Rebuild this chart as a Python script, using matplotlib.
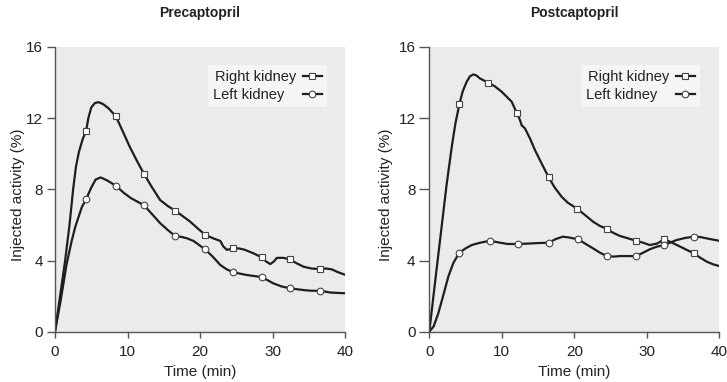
import matplotlib
matplotlib.use("Agg")
import matplotlib.pyplot as plt

plt.rcParams['font.family'] = ['Liberation Sans', 'DejaVu Sans']

#%% Data (time in min, injected activity in %)
pre_right_t = [0, 0.7, 1.4, 2.0, 2.5, 2.9, 3.3, 3.8, 4.3, 4.6, 5.0, 5.5, 6.0, 6.6, 7.4, 8.4,
               9.3, 10.3, 11.3, 12.3, 13.4, 14.5, 15.6, 16.6, 17.6, 18.6, 19.7, 20.7,
               21.8, 22.8, 23.2, 23.7, 24.6, 25.4, 26.2, 27.4, 28.5, 29.1, 29.7, 30.2,
               30.6, 31.5, 32.4, 33.3, 34.3, 35.4, 36.6, 37.4, 38.2, 39.0, 40]
pre_right_v = [0, 2.0, 4.0, 6.0, 8.0, 9.3, 10.1, 10.8, 11.3, 12.0, 12.6, 12.85, 12.9, 12.8, 12.55, 12.1,
               11.3, 10.4, 9.6, 8.85, 8.1, 7.4, 7.05, 6.8, 6.5, 6.2, 5.8, 5.45,
               5.25, 5.1, 4.8, 4.6, 4.68, 4.68, 4.6, 4.4, 4.18, 3.95, 3.8, 3.95,
               4.15, 4.15, 4.07, 3.85, 3.65, 3.55, 3.52, 3.55, 3.5, 3.35, 3.2]

pre_left_t = [0, 0.8, 1.6, 2.3, 2.8, 3.7, 4.3, 5.0, 5.6, 6.3, 7.2, 8.4, 9.5, 10.5, 11.4,
              12.3, 13.4, 14.5, 15.6, 16.6, 17.4, 18.2, 19.1, 20.7, 21.8, 22.8, 23.7,
              24.6, 26.4, 28.5, 29.3, 30.1, 31.2, 32.4, 33.5, 34.5, 35.5, 36.6, 38, 40]
pre_left_v = [0, 1.8, 3.8, 5.1, 5.9, 7.0, 7.45, 8.1, 8.55, 8.67, 8.5, 8.2, 7.8, 7.5, 7.3,
              7.1, 6.6, 6.1, 5.7, 5.37, 5.33, 5.25, 5.1, 4.63, 4.2, 3.75, 3.5,
              3.34, 3.19, 3.07, 2.9, 2.72, 2.55, 2.44, 2.38, 2.33, 2.3, 2.3, 2.2, 2.16]

post_right_t = [0, 0.8, 1.7, 2.4, 3.1, 3.6, 4.14, 4.6, 5.16, 5.6, 6.07, 6.5, 7.0, 8.14, 9.0,
                10.0, 11.37, 12.06, 12.5, 12.74, 13.2, 13.9, 14.58, 15.5, 16.47, 17.3, 18.26,
                19.1, 20.4, 21.5, 22.6, 23.5, 24.5, 25.4, 26.3, 27.4, 28.5, 29.5, 30.4,
                31.4, 32.4, 33.5, 34.6, 35.5, 36.5, 37.4, 38.3, 39.2, 40]
post_right_v = [0, 2.8, 5.9, 8.3, 10.4, 11.7, 12.77, 13.5, 14.05, 14.35, 14.46, 14.4, 14.23, 13.99, 13.8,
                13.48, 12.92, 12.3, 11.9, 11.6, 11.42, 10.85, 10.2, 9.45, 8.67, 8.1, 7.58,
                7.25, 6.91, 6.55, 6.18, 5.95, 5.77, 5.55, 5.38, 5.25, 5.11, 5.0, 4.87,
                4.95, 5.19, 5.0, 4.78, 4.6, 4.4, 4.15, 3.93, 3.78, 3.69]

post_left_t = [0, 0.6, 1.24, 1.9, 2.62, 3.3, 4.14, 5.0, 5.85, 7.0, 8.37, 9.5, 10.8, 12.2,
               13.5, 14.9, 16.5, 17.4, 18.4, 19.2, 20.55, 21.5, 22.6, 23.5, 24.5, 25.4,
               26.3, 27.4, 28.5, 29.4, 30.4, 31.4, 32.4, 33.3, 34.1, 35.3, 36.5, 37.4,
               38.3, 39.2, 40]
post_left_v = [0, 0.3, 1.03, 2.0, 3.09, 3.85, 4.44, 4.68, 4.87, 5.0, 5.11, 5.02, 4.93, 4.93,
               4.95, 4.98, 5.0, 5.2, 5.34, 5.3, 5.19, 4.95, 4.68, 4.45, 4.25, 4.22,
               4.25, 4.25, 4.25, 4.42, 4.63, 4.78, 4.87, 5.02, 5.15, 5.27, 5.34, 5.32,
               5.24, 5.17, 5.11]

# sampled points shown with markers
pre_mark_t = [4.3, 8.4, 12.3, 16.6, 20.7, 24.6, 28.5, 32.4, 36.6]
pre_right_mark = [11.3, 12.1, 8.85, 6.8, 5.45, 4.68, 4.18, 4.07, 3.52]
pre_left_mark = [7.45, 8.2, 7.1, 5.37, 4.63, 3.34, 3.07, 2.44, 2.3]

post_right_mark_t = [4.14, 8.14, 12.06, 16.47, 20.4, 24.5, 28.5, 32.4, 36.5]
post_right_mark = [12.77, 13.99, 12.3, 8.67, 6.91, 5.77, 5.11, 5.19, 4.4]
post_left_mark_t = [4.14, 8.37, 12.2, 16.5, 20.55, 24.5, 28.5, 32.4, 36.5]
post_left_mark = [4.44, 5.11, 4.93, 5.0, 5.19, 4.25, 4.25, 4.87, 5.34]

legend_labels = ['Right kidney', 'Left kidney   ']  # trailing spaces keep labels left aligned
x_ticks = [0, 10, 20, 30, 40]
y_ticks = [0, 4, 8, 12, 16]

#%% Figure
line_col = '#1e1e1e'
txt_col = '#222222'
fig = plt.figure(figsize=(7.27, 3.82), dpi=100)
ax1 = fig.add_axes([55/727, 1-331.7/382, 290/727, 284.7/382])
ax2 = fig.add_axes([429.3/727, 1-331.7/382, 290/727, 284.7/382])

panels = [
    (ax1, 'Precaptopril', pre_right_t, pre_right_v, pre_left_t, pre_left_v,
     pre_mark_t, pre_right_mark, pre_mark_t, pre_left_mark, 0.938, -0.103, 6),
    (ax2, 'Postcaptopril', post_right_t, post_right_v, post_left_t, post_left_v,
     post_right_mark_t, post_right_mark, post_left_mark_t, post_left_mark, 0.933, -0.124, 7.5),
]

for (ax, title, rt, rv, lt, lv, rmt, rm, lmt, lm, leg_x, ylab_x, ytick_len) in panels:
    ax.set_facecolor('#ebebeb')
    ax.plot(rt, rv, color=line_col, lw=1.6, zorder=2, solid_capstyle='round')
    ax.plot(lt, lv, color=line_col, lw=1.6, zorder=2, solid_capstyle='round')
    ax.plot(rmt, rm, ls='none', marker='s', ms=4.3, mfc='white', mec='#444444', mew=0.8, zorder=3)
    ax.plot(lmt, lm, ls='none', marker='o', ms=4.8, mfc='white', mec='#444444', mew=0.8, zorder=3)

    # legend handles (line + marker, marker after text)
    h1, = ax.plot([], [], color=line_col, lw=1.6, marker='s', ms=4.3, mfc='white', mec='#444444', mew=0.8)
    h2, = ax.plot([], [], color=line_col, lw=1.6, marker='o', ms=4.8, mfc='white', mec='#444444', mew=0.8)
    leg = ax.legend([h1, h2], legend_labels, loc='upper right',
                    bbox_to_anchor=(leg_x, 0.937), borderaxespad=0, markerfirst=False,
                    frameon=True, fancybox=False, fontsize=10.5, handlelength=1.3,
                    handletextpad=0.45, labelspacing=0.25, borderpad=0.35)
    leg.get_frame().set_facecolor('#f5f5f5')
    leg.get_frame().set_edgecolor('none')
    leg.get_frame().set_alpha(1)
    for t in leg.get_texts():
        t.set_color(txt_col)

    ax.set_xlim(0, 40)
    ax.set_ylim(0, 16)
    ax.set_xticks(x_ticks)
    ax.set_yticks(y_ticks)
    for s in ['top', 'right']:
        ax.spines[s].set_visible(False)
    for s in ['left', 'bottom']:
        ax.spines[s].set_color('#555555')
        ax.spines[s].set_linewidth(1.0)
    ax.tick_params(axis='x', direction='out', length=4.5, width=1, color='#555555',
                   labelsize=11, labelcolor=txt_col, pad=5)
    ax.tick_params(axis='y', direction='out', length=ytick_len, width=1, color='#555555',
                   labelsize=11, labelcolor=txt_col, pad=2.5)

    ax.set_xlabel('Time (min)', fontsize=11, color=txt_col, va='center')
    ax.xaxis.set_label_coords(0.5, -0.1405)
    ax.set_ylabel('Injected activity (%)', fontsize=11, color=txt_col)
    ax.yaxis.set_label_coords(ylab_x, 0.48)
    ax.text(0.5, 1.119, title, transform=ax.transAxes, ha='center', va='center',
            fontsize=10, fontweight='bold', color=txt_col)

fig.savefig('out.png', dpi=100)
